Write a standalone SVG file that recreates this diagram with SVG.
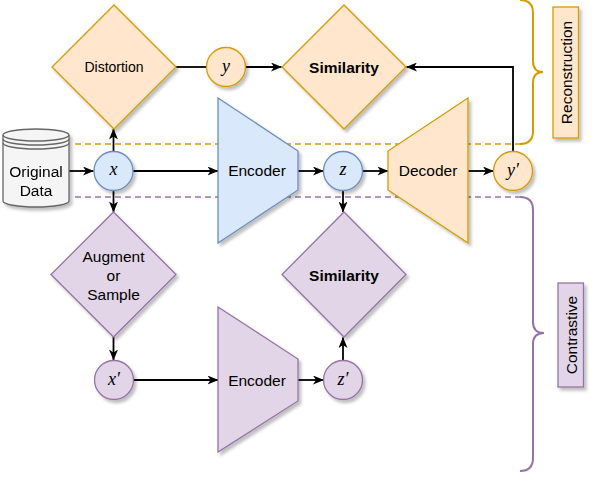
<svg xmlns="http://www.w3.org/2000/svg" width="596" height="482" viewBox="0 0 596 482">
<defs>
<filter id="sh" x="-20%" y="-20%" width="150%" height="150%">
<feDropShadow dx="2.5" dy="3" stdDeviation="1.6" flood-color="#000" flood-opacity="0.25"/>
</filter>
<marker id="ah" viewBox="0 0 11 9" refX="10.5" refY="4.5" markerWidth="11" markerHeight="9" markerUnits="userSpaceOnUse" orient="auto">
<path d="M0,0 L11,4.5 L0,9 L3,4.5 Z" fill="#000"/>
</marker>
</defs>
<style>
.or{fill:#ffe6cc;stroke:#d79b00;stroke-width:1.3}
.bl{fill:#dae8fc;stroke:#6c8ebf;stroke-width:1.3}
.pu{fill:#e1d5e7;stroke:#9673a6;stroke-width:1.3}
.gr{fill:#f5f5f5;stroke:#666666;stroke-width:1.3}
.t{font-family:"Liberation Sans",Arial,sans-serif;font-size:15.5px;fill:#000;text-anchor:middle;dominant-baseline:central}
.b{font-weight:bold}
.m{font-family:"Liberation Serif","Times New Roman",serif;font-style:italic;font-size:18px;fill:#000;text-anchor:middle;dominant-baseline:central}
.c{fill:none;stroke:#000;stroke-width:1.8}
.sh{filter:url(#sh)}
</style>
<g id="separators">
<line x1="75" y1="144" x2="520" y2="144" stroke="#d79b00" stroke-width="1.3" stroke-dasharray="6,4"/>
<line x1="75" y1="197" x2="520" y2="197" stroke="#9673a6" stroke-width="1.3" stroke-dasharray="6,4"/>
<path d="M520,144 Q533,144 533,131 L533,83 Q533,72 543,72 Q533,72 533,61 L533,13 Q533,0 520,0" fill="none" stroke="#d79b00" stroke-width="2"/>
<path d="M520,197 Q533,197 533,210 L533,322 Q533,333 544,333 Q533,333 533,344 L533,458 Q533,471 520,471" fill="none" stroke="#9673a6" stroke-width="2"/>
</g>
<g id="connectors">
<line class="c" x1="69" y1="171" x2="93.5" y2="171" marker-end="url(#ah)"/>
<line class="c" x1="113.5" y1="151" x2="113.5" y2="129" marker-end="url(#ah)"/>
<line class="c" x1="113.5" y1="191" x2="113.5" y2="212" marker-end="url(#ah)"/>
<line class="c" x1="133" y1="171" x2="218" y2="171" marker-end="url(#ah)"/>
<line class="c" x1="176" y1="67" x2="206.5" y2="67"/>
<line class="c" x1="245.5" y1="67" x2="281.5" y2="67" marker-end="url(#ah)"/>
<line class="c" x1="298" y1="171" x2="323.5" y2="171" marker-end="url(#ah)"/>
<line class="c" x1="362.5" y1="171" x2="388" y2="171" marker-end="url(#ah)"/>
<line class="c" x1="468" y1="171" x2="493.5" y2="171" marker-end="url(#ah)"/>
<polyline class="c" points="513,151.5 513,67 406.5,67" marker-end="url(#ah)"/>
<line class="c" x1="343" y1="191" x2="343" y2="212" marker-end="url(#ah)"/>
<line class="c" x1="113.5" y1="337" x2="113.5" y2="360" marker-end="url(#ah)"/>
<line class="c" x1="134" y1="380" x2="218" y2="380" marker-end="url(#ah)"/>
<line class="c" x1="298" y1="380" x2="323.5" y2="380" marker-end="url(#ah)"/>
<line class="c" x1="343" y1="360" x2="343" y2="337.5" marker-end="url(#ah)"/>
</g>
<g id="original-data" class="sh">
<path class="gr" d="M3,135 A33,6 0 0 1 69,135 L69,201 A33,6 0 0 1 3,201 Z"/>
<path fill="none" stroke="#666666" stroke-width="1.3" d="M3,135 A33,6 0 0 0 69,135 M3,139 A33,6 0 0 0 69,139 M3,143 A33,6 0 0 0 69,143"/>
<text class="t" x="36" y="171">Original</text>
<text class="t" x="36" y="190">Data</text>
</g>
<g id="distortion">
<polygon class="or sh" points="114,5 176,67 114,129 52,67"/>
<text class="t" x="114" y="67" style="font-size:14px">Distortion</text>
</g>
<g id="node-y">
<circle class="or sh" cx="226" cy="67" r="19.5"/>
<text class="m" x="226" y="66">y</text>
</g>
<g id="similarity-top">
<polygon class="or sh" points="344,5 406,67 344,129 282,67"/>
<text class="t b" x="344" y="67">Similarity</text>
</g>
<g id="node-x">
<circle class="bl sh" cx="113.5" cy="171" r="19.5"/>
<text class="m" x="113.5" y="169">x</text>
</g>
<g id="encoder-top">
<polygon class="bl sh" points="218,98 298,151 298,190 218,243"/>
<text class="t" x="257" y="170.5">Encoder</text>
</g>
<g id="node-z">
<circle class="bl sh" cx="343" cy="171" r="19.5"/>
<text class="m" x="343" y="169">z</text>
</g>
<g id="decoder">
<polygon class="or sh" points="468,98 388,151 388,190 468,243"/>
<text class="t" x="428" y="170.5">Decoder</text>
</g>
<g id="node-y-prime">
<circle class="or sh" cx="513" cy="171" r="19.5"/>
<text class="m" x="513" y="170">y′</text>
</g>
<g id="reconstruction-label">
<rect class="or sh" x="553" y="7" width="25.5" height="131"/>
<text class="t" transform="translate(566,72.5) rotate(-90)" x="0" y="0">Reconstruction</text>
</g>
<g id="augment">
<polygon class="pu sh" points="113.5,212 176,274.5 113.5,337 51,274.5"/>
<text class="t" x="113.5" y="256">Augment</text>
<text class="t" x="113.5" y="275">or</text>
<text class="t" x="113.5" y="294">Sample</text>
</g>
<g id="similarity-bottom">
<polygon class="pu sh" points="344,212 406,274.5 344,337 282,274.5"/>
<text class="t b" x="344" y="275">Similarity</text>
</g>
<g id="node-x-prime">
<circle class="pu sh" cx="114" cy="380" r="19.5"/>
<text class="m" x="114" y="379">x′</text>
</g>
<g id="encoder-bottom">
<polygon class="pu sh" points="218,307 298,359 298,401 218,452"/>
<text class="t" x="257" y="380">Encoder</text>
</g>
<g id="node-z-prime">
<circle class="pu sh" cx="343" cy="380" r="19.5"/>
<text class="m" x="343" y="379">z′</text>
</g>
<g id="contrastive-label">
<rect class="pu sh" x="558" y="283" width="25.5" height="104"/>
<text class="t" transform="translate(571,335) rotate(-90)" x="0" y="0">Contrastive</text>
</g>
</svg>
